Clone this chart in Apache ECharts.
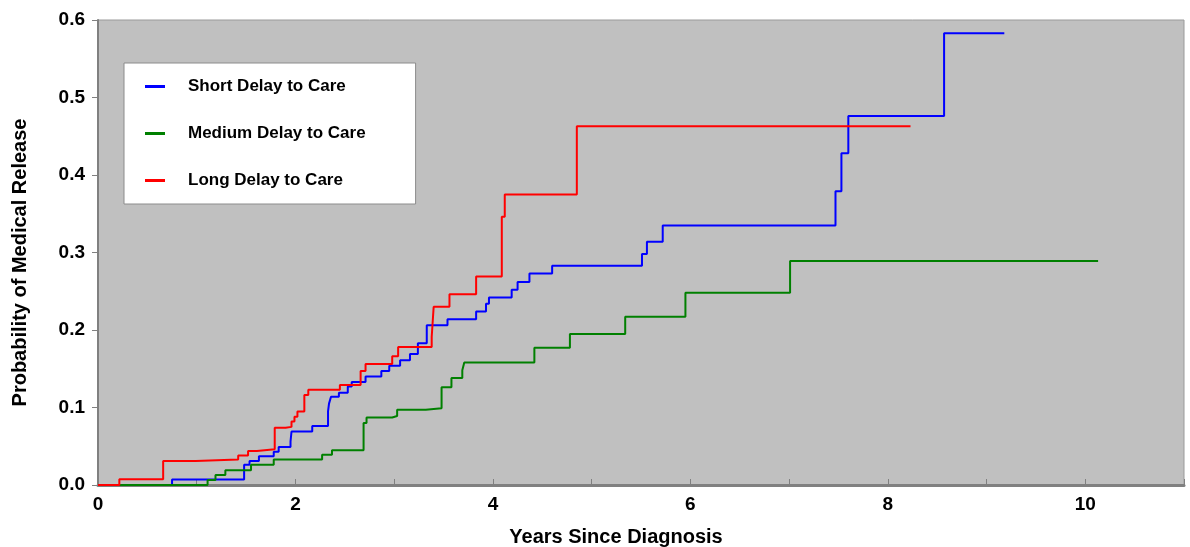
<!DOCTYPE html>
<html>
<head>
<meta charset="utf-8">
<script src="https://cdn.jsdelivr.net/npm/echarts@6/dist/echarts.min.js"></script>
<style>
  html, body { margin: 0; padding: 0; background: #fff; }
  #chart { width: 1190px; height: 547px; }
</style>
</head>
<body>
<div id="chart"></div>
<script>
// 各组数据：[年份, 累计概率]，阶梯图
var seriesNames = ["Short Delay to Care", "Medium Delay to Care", "Long Delay to Care"];
var seriesColors = ["#0000ff", "#008000", "#ff0000"];

var shortDelay = [
  [0, 0], [0.75, 0.007], [1.48, 0.026], [1.535, 0.031], [1.63, 0.037], [1.78, 0.043],
  [1.83, 0.049], [1.95, 0.056], [1.96, 0.069], [2.17, 0.076], [2.33, 0.095], [2.34, 0.105],
  [2.36, 0.114], [2.44, 0.119], [2.53, 0.127], [2.57, 0.133], [2.71, 0.14], [2.87, 0.147],
  [2.95, 0.154], [3.06, 0.161], [3.16, 0.169], [3.24, 0.183], [3.33, 0.206], [3.54, 0.214],
  [3.83, 0.224], [3.93, 0.234], [3.96, 0.242], [4.19, 0.252], [4.25, 0.262], [4.37, 0.273],
  [4.6, 0.283], [5.51, 0.298], [5.56, 0.314], [5.72, 0.335], [7.47, 0.379], [7.53, 0.428],
  [7.6, 0.476], [8.57, 0.583], [9.18, 0.583]
];
var mediumDelay = [
  [0, 0], [1.11, 0.0065], [1.19, 0.013], [1.29, 0.019], [1.55, 0.026], [1.78, 0.033],
  [2.27, 0.039], [2.37, 0.045], [2.69, 0.08], [2.72, 0.087], [2.98, 0.089], [3.03, 0.097],
  [3.32, 0.099], [3.48, 0.126], [3.58, 0.138], [3.69, 0.148], [3.71, 0.158], [4.42, 0.177],
  [4.78, 0.195], [5.34, 0.217], [5.95, 0.248], [7.01, 0.289], [10.13, 0.289]
];
var longDelay = [
  [0, 0], [0.216, 0.0073], [0.66, 0.031], [0.99, 0.033], [1.42, 0.038], [1.52, 0.044],
  [1.61, 0.046], [1.79, 0.074], [1.9, 0.075], [1.96, 0.082], [1.99, 0.088], [2.02, 0.095],
  [2.09, 0.116], [2.13, 0.123], [2.45, 0.129], [2.66, 0.147], [2.71, 0.156], [2.98, 0.166],
  [3.04, 0.178], [3.38, 0.191], [3.4, 0.23], [3.56, 0.246], [3.83, 0.269], [4.09, 0.346],
  [4.12, 0.375], [4.85, 0.463], [8.23, 0.463]
];

(function () {
  var myChart = echarts.init(document.getElementById("chart"));
  var font = "'Liberation Sans', Arial, sans-serif";
  var allData = [shortDelay, mediumDelay, longDelay];

  var option = {
    animation: false,
    textStyle: { fontFamily: font },
    grid: {
      left: 98,
      right: 6,
      top: 20,
      bottom: 62,
      outerBoundsMode: "none",
      show: true,
      backgroundColor: "#c0c0c0",
      borderColor: "#9a9a9a",
      borderWidth: 1,
    },
    legend: {
      orient: "vertical",
      left: 124,
      top: 63,
      backgroundColor: "#ffffff",
      borderColor: "#8c8c8c",
      borderWidth: 1,
      padding: [15, 50, 15, 21],
      itemGap: 30,
      itemWidth: 20,
      itemHeight: 3,
      icon: "rect",
      textStyle: {
        fontFamily: font,
        fontWeight: "bold",
        fontSize: 17,
        color: "#000",
        padding: [0, 0, 0, 18],
      },
      data: seriesNames,
    },
    xAxis: {
      type: "value",
      min: 0,
      max: 11,
      interval: 1,
      name: "Years Since Diagnosis",
      nameLocation: "middle",
      nameGap: 42,
      nameTextStyle: {
        fontFamily: font,
        fontWeight: "bold",
        fontSize: 20,
        color: "#000",
        padding: [0, 50, 0, 0],
      },
      axisLine: { lineStyle: { color: "#808080", width: 3 } },
      axisTick: { show: true, inside: true, length: 6, lineStyle: { color: "#808080", width: 1 } },
      axisLabel: {
        fontFamily: font,
        fontWeight: "bold",
        fontSize: 19,
        color: "#000",
        margin: 10,
        formatter: function (v) {
          return v % 2 === 0 ? String(v) : "";
        },
      },
      splitLine: { show: false },
    },
    yAxis: {
      type: "value",
      min: 0,
      max: 0.6,
      interval: 0.1,
      name: "Probability of Medical Release",
      nameLocation: "middle",
      nameGap: 68,
      nameTextStyle: {
        fontFamily: font,
        fontWeight: "bold",
        fontSize: 20,
        color: "#000",
        padding: [0, 20, 0, 0],
      },
      axisLine: { show: true, lineStyle: { color: "#808080", width: 2 } },
      axisTick: { show: true, length: 6, lineStyle: { color: "#808080", width: 1 } },
      axisLabel: {
        fontFamily: font,
        fontWeight: "bold",
        fontSize: 19,
        color: "#000",
        margin: 13,
        formatter: function (v) {
          return v.toFixed(1);
        },
      },
      splitLine: { show: false },
    },
    series: seriesNames.map(function (name, i) {
      return {
        name: name,
        type: "line",
        step: "end",
        showSymbol: false,
        symbol: "none",
        color: seriesColors[i],
        lineStyle: { width: 2, color: seriesColors[i] },
        data: allData[i],
      };
    }),
  };

  myChart.setOption(option);
  window.addEventListener("resize", function () {
    myChart.resize();
  });
})();
</script>
</body>
</html>
